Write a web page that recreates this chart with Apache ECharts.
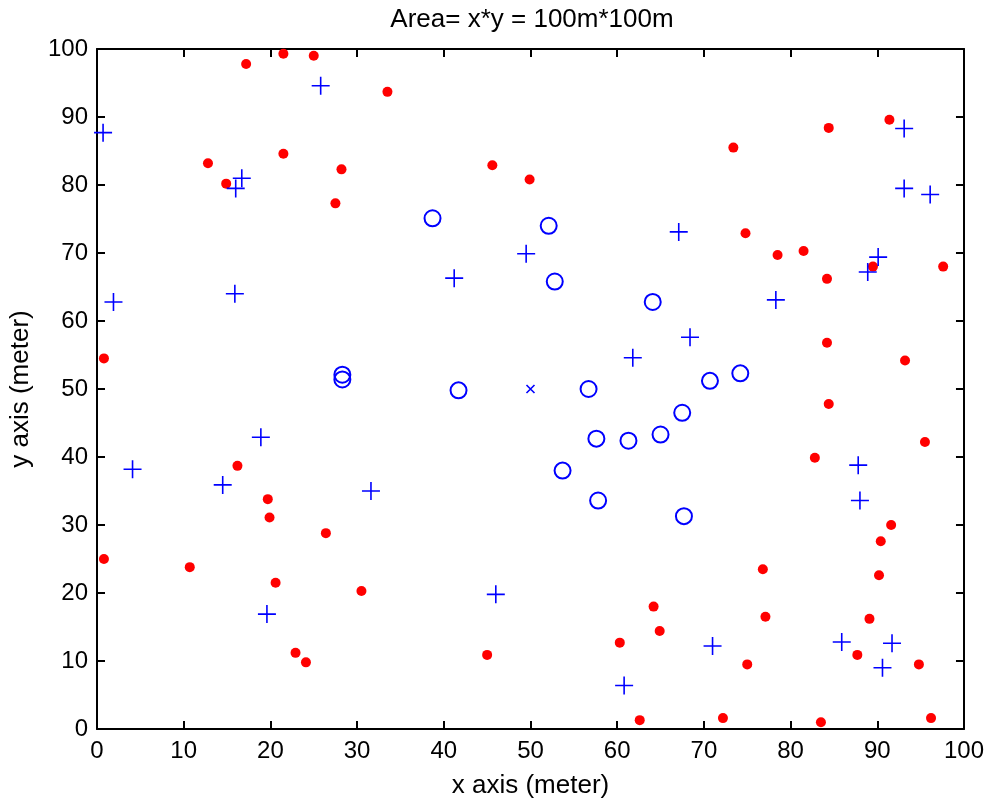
<!DOCTYPE html>
<html><head><meta charset="utf-8">
<script src="https://cdn.jsdelivr.net/npm/echarts@6/dist/echarts.min.js"></script>
<style>html,body{margin:0;padding:0;background:#fff}#c{width:987px;height:804px}</style>
</head><body><div id="c"></div>
<script>
const titleText = 'Area= x*y = 100m*100m';
const xName = 'x axis (meter)';
const yName = 'y axis (meter)';
const xTicks = [0,10,20,30,40,50,60,70,80,90,100];
const yTicks = [0,10,20,30,40,50,60,70,80,90,100];

const redDots = [
 [17.2,97.8],[21.5,99.3],[25.0,99.0],[33.5,93.7],[12.8,83.2],[14.9,80.2],[21.5,84.6],[28.2,82.3],[27.5,77.3],[0.8,54.5],
 [45.6,82.9],[49.9,80.8],[73.4,85.5],[84.4,88.4],[91.4,89.6],[74.8,72.9],[78.5,69.7],[81.5,70.3],[84.2,66.2],[89.5,68.0],[97.6,68.0],[84.2,56.8],[93.2,54.2],
 [16.2,38.7],[19.7,33.8],[19.9,31.1],[26.4,28.8],[0.8,25.0],[10.7,23.8],[20.6,21.5],[30.5,20.3],[22.9,11.2],[24.1,9.8],[45.0,10.9],
 [84.4,47.8],[95.5,42.2],[82.8,39.9],[91.6,30.0],[90.4,27.6],[76.8,23.5],[90.2,22.6],[64.2,18.0],[77.1,16.5],[89.1,16.2],[64.9,14.4],[60.3,12.7],[87.7,10.9],[75.0,9.5],[94.8,9.5],[62.6,1.3],[72.2,1.6],[83.5,1.0],[96.2,1.6]
];
const plusPts = [
 [0.7,87.7],[16.7,81.0],[16.0,79.5],[25.8,94.6],[15.9,64.0],[1.9,62.8],[41.2,66.3],
 [49.5,69.9],[67.1,73.1],[93.1,88.3],[93.1,79.5],[96.1,78.6],[90.1,69.4],[88.9,67.2],[78.3,63.1],[68.4,57.6],[61.8,54.6],
 [18.9,42.9],[4.1,38.2],[14.5,35.9],[31.6,35.0],[19.6,16.9],[46.0,19.8],
 [87.8,38.8],[88.0,33.6],[71.0,12.2],[85.9,12.8],[91.7,12.6],[90.6,9.0],[60.8,6.4]
];
const circlePts = [
 [38.7,75.1],[28.3,52.1],[28.3,51.4],[41.7,49.8],
 [52.1,74.0],[52.8,65.8],[64.1,62.8],[56.7,50.0],[70.7,51.2],[74.2,52.3],
 [67.5,46.5],[57.6,42.7],[61.3,42.4],[65.0,43.3],[53.7,38.0],[57.8,33.6],[67.7,31.3]
];
const crossPts = [[50,50]];

const chart = echarts.init(document.getElementById('c'), null, {renderer:'canvas'});
const font = 'Liberation Sans, Arial, sans-serif';
const axisCommon = {
  type:'value', min:0, max:100, interval:10,
  axisLine:{show:true, onZero:false, lineStyle:{color:'#000', width:2}},
  axisTick:{show:true, inside:true, length:8, lineStyle:{color:'#000', width:2}},
  splitLine:{show:false}
};
chart.setOption({
  animation:false,
  backgroundColor:'#fff',
  title:{text:titleText, left:527, textAlign:'center', top:2, textStyle:{fontFamily:font, fontSize:26, fontWeight:'normal', color:'#000'}},
  grid:{left:97, right:22, top:49, bottom:71, containLabel:false},
  xAxis:[
    Object.assign({}, axisCommon, {position:'bottom', name:xName, nameLocation:'middle', nameGap:44,
      nameTextStyle:{fontFamily:font, fontSize:26, color:'#000'},
      axisLabel:{fontFamily:font, fontSize:24, color:'#000', margin:10, formatter:v=>xTicks.includes(v)?String(v):''}}),
    Object.assign({}, axisCommon, {position:'top', axisLabel:{show:false}})
  ],
  yAxis:[
    Object.assign({}, axisCommon, {position:'left', name:yName, nameLocation:'middle', nameGap:63,
      nameTextStyle:{fontFamily:font, fontSize:26, color:'#000'},
      axisLabel:{fontFamily:font, fontSize:24, color:'#000', margin:9, formatter:v=>yTicks.includes(v)?String(v):''}}),
    Object.assign({}, axisCommon, {position:'right', axisLabel:{show:false}})
  ],
  series:[
    {type:'scatter', data:redDots, symbol:'circle', symbolSize:10, itemStyle:{color:'#ff0000', opacity:1}},
    {type:'scatter', data:plusPts, symbol:'path://M10,0L10,20M0,10L20,10', symbolSize:18,
      itemStyle:{color:'none', borderColor:'#0000ff', borderWidth:1.6, opacity:1}},
    {type:'scatter', data:circlePts, symbol:'circle', symbolSize:16,
      itemStyle:{color:'none', borderColor:'#0000ff', borderWidth:2, opacity:1}},
    {type:'scatter', data:crossPts, symbol:'path://M0,0L10,10M10,0L0,10', symbolSize:8,
      itemStyle:{color:'none', borderColor:'#0000ff', borderWidth:1.6, opacity:1}}
  ]
});
</script></body></html>
